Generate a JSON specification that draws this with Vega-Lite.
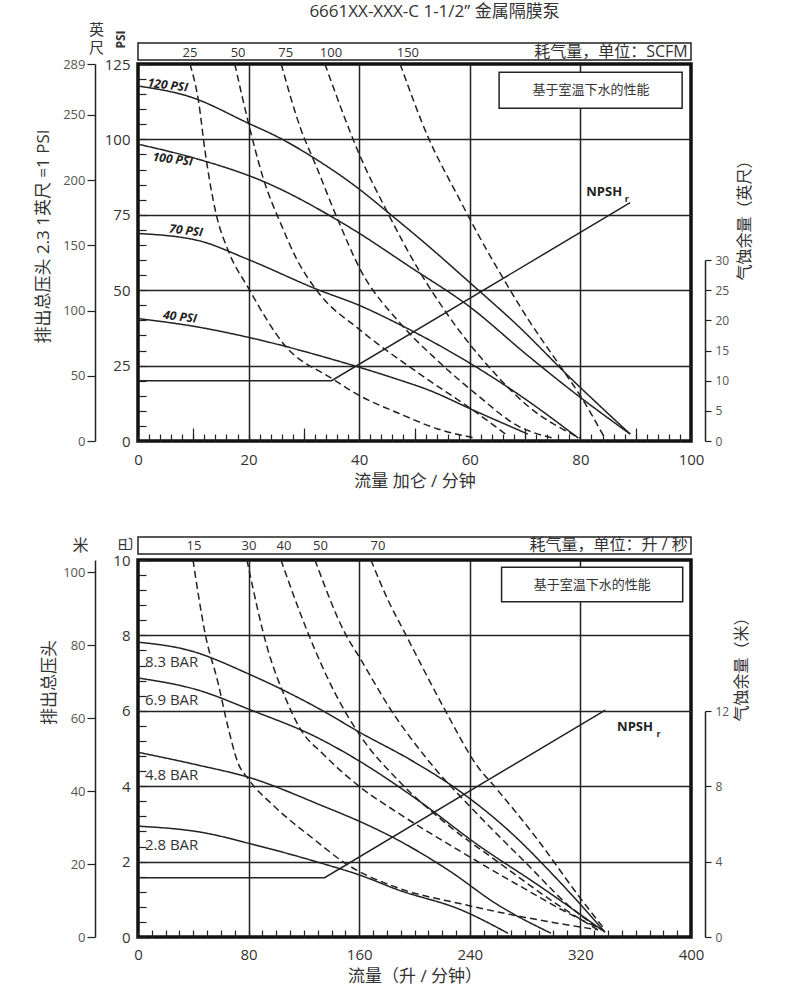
{
  "$schema": "https://vega.github.io/schema/vega-lite/v6.json",
  "padding": {"left": 32, "top": 1, "right": 5, "bottom": 5},
  "spacing": 43,
  "datasets": {
    "topCurves": [
      {"s":"120","k":"solid","gpm":0,"psi":117.7},{"s":"120","k":"solid","gpm":9.6,"psi":114.0},{"s":"120","k":"solid","gpm":19.9,"psi":105.4},{"s":"120","k":"solid","gpm":25.7,"psi":100.4},{"s":"120","k":"solid","gpm":31.6,"psi":94.1},{"s":"120","k":"solid","gpm":39.8,"psi":83.8},{"s":"120","k":"solid","gpm":45.2,"psi":75.8},{"s":"120","k":"solid","gpm":52.4,"psi":64.8},{"s":"120","k":"solid","gpm":60.2,"psi":52.2},{"s":"120","k":"solid","gpm":68.7,"psi":38.2},{"s":"120","k":"solid","gpm":77.8,"psi":21.6},{"s":"120","k":"solid","gpm":89.0,"psi":2.3},
      {"s":"100","k":"solid","gpm":0,"psi":98.4},{"s":"100","k":"solid","gpm":9.6,"psi":94.1},{"s":"100","k":"solid","gpm":23.5,"psi":85.4},{"s":"100","k":"solid","gpm":36.2,"psi":73.1},{"s":"100","k":"solid","gpm":39.8,"psi":69.1},{"s":"100","k":"solid","gpm":48.8,"psi":58.2},{"s":"100","k":"solid","gpm":60.2,"psi":44.2},{"s":"100","k":"solid","gpm":70.5,"psi":28.3},{"s":"100","k":"solid","gpm":79.6,"psi":15.0},{"s":"100","k":"solid","gpm":89.0,"psi":2.3},
      {"s":"70","k":"solid","gpm":0,"psi":68.8},{"s":"70","k":"solid","gpm":10.8,"psi":66.5},{"s":"70","k":"solid","gpm":19.9,"psi":60.2},{"s":"70","k":"solid","gpm":32.5,"psi":50.2},{"s":"70","k":"solid","gpm":40.1,"psi":44.9},{"s":"70","k":"solid","gpm":47.0,"psi":38.9},{"s":"70","k":"solid","gpm":60.2,"psi":25.6},{"s":"70","k":"solid","gpm":70.5,"psi":13.3},{"s":"70","k":"solid","gpm":79.6,"psi":1.0},
      {"s":"40","k":"solid","gpm":0,"psi":40.6},{"s":"40","k":"solid","gpm":10.8,"psi":37.8},{"s":"40","k":"solid","gpm":19.9,"psi":34.4},{"s":"40","k":"solid","gpm":26.6,"psi":31.4},{"s":"40","k":"solid","gpm":34.9,"psi":27.2},{"s":"40","k":"solid","gpm":40.1,"psi":24.4},{"s":"40","k":"solid","gpm":47.0,"psi":20.4},{"s":"40","k":"solid","gpm":52.4,"psi":17.0},{"s":"40","k":"solid","gpm":60.9,"psi":10.0},{"s":"40","k":"solid","gpm":70.5,"psi":2.3},
      {"s":"a25","k":"dashed","gpm":9.4,"psi":125},{"s":"a25","k":"dashed","gpm":11.0,"psi":112},{"s":"a25","k":"dashed","gpm":12.1,"psi":96.4},{"s":"a25","k":"dashed","gpm":14.1,"psi":75.5},{"s":"a25","k":"dashed","gpm":16.3,"psi":63.2},{"s":"a25","k":"dashed","gpm":19.9,"psi":50.9},{"s":"a25","k":"dashed","gpm":26.6,"psi":31.6},{"s":"a25","k":"dashed","gpm":34.9,"psi":20.9},{"s":"a25","k":"dashed","gpm":40.1,"psi":15.0},{"s":"a25","k":"dashed","gpm":47.0,"psi":9.3},{"s":"a25","k":"dashed","gpm":54.2,"psi":4.0},{"s":"a25","k":"dashed","gpm":60.9,"psi":1.0},
      {"s":"a50","k":"dashed","gpm":17.5,"psi":125},{"s":"a50","k":"dashed","gpm":19.9,"psi":106},{"s":"a50","k":"dashed","gpm":22.5,"psi":88},{"s":"a50","k":"dashed","gpm":26.3,"psi":70},{"s":"a50","k":"dashed","gpm":28.5,"psi":61},{"s":"a50","k":"dashed","gpm":32.5,"psi":49.5},{"s":"a50","k":"dashed","gpm":40.3,"psi":36.6},{"s":"a50","k":"dashed","gpm":50.1,"psi":23.3},{"s":"a50","k":"dashed","gpm":60.9,"psi":9.8},{"s":"a50","k":"dashed","gpm":66.9,"psi":1.7},
      {"s":"a75","k":"dashed","gpm":25.9,"psi":125},{"s":"a75","k":"dashed","gpm":29.5,"psi":103.1},{"s":"a75","k":"dashed","gpm":32.0,"psi":92.1},{"s":"a75","k":"dashed","gpm":36.2,"psi":73.1},{"s":"a75","k":"dashed","gpm":40.3,"psi":56.5},{"s":"a75","k":"dashed","gpm":47.0,"psi":39.9},{"s":"a75","k":"dashed","gpm":54.2,"psi":26.6},{"s":"a75","k":"dashed","gpm":61.5,"psi":15.0},{"s":"a75","k":"dashed","gpm":68.7,"psi":5.0},{"s":"a75","k":"dashed","gpm":75.0,"psi":1.0},
      {"s":"a100","k":"dashed","gpm":33.8,"psi":125},{"s":"a100","k":"dashed","gpm":37.1,"psi":108.5},{"s":"a100","k":"dashed","gpm":39.8,"psi":96},{"s":"a100","k":"dashed","gpm":45.2,"psi":75.5},{"s":"a100","k":"dashed","gpm":50.6,"psi":57.2},{"s":"a100","k":"dashed","gpm":56.1,"psi":41.6},{"s":"a100","k":"dashed","gpm":63.3,"psi":24.9},{"s":"a100","k":"dashed","gpm":70.5,"psi":11.6},{"s":"a100","k":"dashed","gpm":79.9,"psi":1.0},
      {"s":"a150","k":"dashed","gpm":47.4,"psi":125},{"s":"a150","k":"dashed","gpm":52.4,"psi":101},{"s":"a150","k":"dashed","gpm":57.9,"psi":81},{"s":"a150","k":"dashed","gpm":61.5,"psi":68.5},{"s":"a150","k":"dashed","gpm":66.5,"psi":52.5},{"s":"a150","k":"dashed","gpm":70.5,"psi":40.5},{"s":"a150","k":"dashed","gpm":75.9,"psi":26.0},{"s":"a150","k":"dashed","gpm":80.5,"psi":13.5},{"s":"a150","k":"dashed","gpm":84.4,"psi":1.0}
    ],
    "topNpsh": [{"gpm":0,"npsh":10},{"gpm":35,"npsh":10},{"gpm":89,"npsh":39.5}],
    "topAir": [{"scfm":"25","gpm":9.4},{"scfm":"50","gpm":18.1},{"scfm":"75","gpm":26.7},{"scfm":"100","gpm":34.9},{"scfm":"150","gpm":48.8}],
    "topLabels": [{"label":"120 PSI","gpm":5.4,"psi":118.0},{"label":"100 PSI","gpm":6.3,"psi":93.4},{"label":"70 PSI","gpm":8.7,"psi":69.8},{"label":"40 PSI","gpm":7.6,"psi":41.2}],
    "botCurves": [
      {"s":"8.3","k":"solid","lpm":0,"bar":7.82},{"s":"8.3","k":"solid","lpm":36.2,"bar":7.61},{"s":"8.3","k":"solid","lpm":81.7,"bar":6.95},{"s":"8.3","k":"solid","lpm":130.2,"bar":6.07},{"s":"8.3","k":"solid","lpm":161.3,"bar":5.41},{"s":"8.3","k":"solid","lpm":197.5,"bar":4.69},{"s":"8.3","k":"solid","lpm":231.5,"bar":3.9},{"s":"8.3","k":"solid","lpm":267.6,"bar":2.84},{"s":"8.3","k":"solid","lpm":303.8,"bar":1.51},{"s":"8.3","k":"solid","lpm":337.8,"bar":0.13},
      {"s":"6.9","k":"solid","lpm":0,"bar":6.87},{"s":"6.9","k":"solid","lpm":43.4,"bar":6.55},{"s":"6.9","k":"solid","lpm":81.7,"bar":6.02},{"s":"6.9","k":"solid","lpm":130.2,"bar":5.28},{"s":"6.9","k":"solid","lpm":161.3,"bar":4.64},{"s":"6.9","k":"solid","lpm":202.5,"bar":3.63},{"s":"6.9","k":"solid","lpm":245.9,"bar":2.44},{"s":"6.9","k":"solid","lpm":289.3,"bar":1.38},{"s":"6.9","k":"solid","lpm":337.8,"bar":0.13},
      {"s":"4.8","k":"solid","lpm":0,"bar":4.9},{"s":"4.8","k":"solid","lpm":43.4,"bar":4.56},{"s":"4.8","k":"solid","lpm":79.6,"bar":4.24},{"s":"4.8","k":"solid","lpm":135.3,"bar":3.45},{"s":"4.8","k":"solid","lpm":161.3,"bar":3.05},{"s":"4.8","k":"solid","lpm":188.1,"bar":2.57},{"s":"4.8","k":"solid","lpm":224.2,"bar":1.78},{"s":"4.8","k":"solid","lpm":260.4,"bar":0.85},{"s":"4.8","k":"solid","lpm":298.7,"bar":0.1},
      {"s":"2.8","k":"solid","lpm":0,"bar":2.94},{"s":"2.8","k":"solid","lpm":48.5,"bar":2.76},{"s":"2.8","k":"solid","lpm":79.6,"bar":2.49},{"s":"2.8","k":"solid","lpm":132.4,"bar":1.96},{"s":"2.8","k":"solid","lpm":160.6,"bar":1.64},{"s":"2.8","k":"solid","lpm":188.1,"bar":1.25},{"s":"2.8","k":"solid","lpm":233.6,"bar":0.72},{"s":"2.8","k":"solid","lpm":267.6,"bar":0.1},
      {"s":"a15","k":"dashed","lpm":39.8,"bar":10},{"s":"a15","k":"dashed","lpm":44,"bar":9.0},{"s":"a15","k":"dashed","lpm":48.5,"bar":8.06},{"s":"a15","k":"dashed","lpm":57.9,"bar":6.74},{"s":"a15","k":"dashed","lpm":65.1,"bar":5.57},{"s":"a15","k":"dashed","lpm":72.3,"bar":4.62},{"s":"a15","k":"dashed","lpm":79.6,"bar":4.2},{"s":"a15","k":"dashed","lpm":99.1,"bar":3.45},{"s":"a15","k":"dashed","lpm":128,"bar":2.57},{"s":"a15","k":"dashed","lpm":149.7,"bar":1.96},{"s":"a15","k":"dashed","lpm":188.1,"bar":1.3},{"s":"a15","k":"dashed","lpm":233.6,"bar":0.88},{"s":"a15","k":"dashed","lpm":280,"bar":0.52},{"s":"a15","k":"dashed","lpm":332.7,"bar":0.19},
      {"s":"a30","k":"dashed","lpm":78.8,"bar":10},{"s":"a30","k":"dashed","lpm":94,"bar":7.61},{"s":"a30","k":"dashed","lpm":106.3,"bar":6.37},{"s":"a30","k":"dashed","lpm":117.9,"bar":5.49},{"s":"a30","k":"dashed","lpm":134,"bar":4.85},{"s":"a30","k":"dashed","lpm":160.6,"bar":3.98},{"s":"a30","k":"dashed","lpm":188.1,"bar":3.29},{"s":"a30","k":"dashed","lpm":231.5,"bar":2.31},{"s":"a30","k":"dashed","lpm":274.9,"bar":1.38},{"s":"a30","k":"dashed","lpm":318.3,"bar":0.5},{"s":"a30","k":"dashed","lpm":336.3,"bar":0.19},
      {"s":"a40","k":"dashed","lpm":103.4,"bar":10},{"s":"a40","k":"dashed","lpm":123,"bar":8.06},{"s":"a40","k":"dashed","lpm":142.5,"bar":6.47},{"s":"a40","k":"dashed","lpm":161.3,"bar":5.31},{"s":"a40","k":"dashed","lpm":188.1,"bar":4.16},{"s":"a40","k":"dashed","lpm":224.2,"bar":2.97},{"s":"a40","k":"dashed","lpm":260.4,"bar":1.99},{"s":"a40","k":"dashed","lpm":303.8,"bar":0.85},{"s":"a40","k":"dashed","lpm":332.7,"bar":0.19},
      {"s":"a50","k":"dashed","lpm":128,"bar":10},{"s":"a50","k":"dashed","lpm":149.7,"bar":8.06},{"s":"a50","k":"dashed","lpm":161.3,"bar":7.35},{"s":"a50","k":"dashed","lpm":183,"bar":6.02},{"s":"a50","k":"dashed","lpm":209.8,"bar":4.69},{"s":"a50","k":"dashed","lpm":246,"bar":3.24},{"s":"a50","k":"dashed","lpm":282.1,"bar":1.91},{"s":"a50","k":"dashed","lpm":311,"bar":0.85},{"s":"a50","k":"dashed","lpm":334.9,"bar":0.19},
      {"s":"a70","k":"dashed","lpm":168.5,"bar":10},{"s":"a70","k":"dashed","lpm":180.8,"bar":8.94},{"s":"a70","k":"dashed","lpm":193.1,"bar":8.06},{"s":"a70","k":"dashed","lpm":222.1,"bar":6.02},{"s":"a70","k":"dashed","lpm":245.9,"bar":4.51},{"s":"a70","k":"dashed","lpm":258.2,"bar":3.98},{"s":"a70","k":"dashed","lpm":289.3,"bar":2.57},{"s":"a70","k":"dashed","lpm":318.3,"bar":1.11},{"s":"a70","k":"dashed","lpm":337.8,"bar":0.19}
    ],
    "botNpsh": [{"lpm":0,"npsh":3.15},{"lpm":135,"npsh":3.15},{"lpm":338,"npsh":12.05}],
    "botAir": [{"ls":"15","lpm":40.5},{"ls":"30","lpm":80.3},{"ls":"40","lpm":105.6},{"ls":"50","lpm":132},{"ls":"70","lpm":173.6}],
    "botLabels": [{"label":"8.3 BAR","lpm":5,"bar":7.29},{"label":"6.9 BAR","lpm":5,"bar":6.29},{"label":"4.8 BAR","lpm":5,"bar":4.30},{"label":"2.8 BAR","lpm":5,"bar":2.44}]
  },
  "vconcat": [
    {
      "title": {"text": "6661XX-XXX-C  1-1/2” 金属隔膜泵", "fontSize": 17, "fontWeight": "normal", "color": "#333", "anchor": "middle", "frame": "group", "dx": 20, "offset": 1},
      "width": 553,
      "height": 377,
      "layer": [
        {
          "layer": [
            {
              "data": {"name": "topCurves"},
              "mark": {"type": "line", "interpolate": "monotone", "strokeWidth": 1.5, "color": "#222"},
              "encoding": {
                "x": {"field": "gpm", "type": "quantitative", "scale": {"domain": [0, 100], "nice": false},
                  "axis": {"title": "流量 加仑 / 分钟", "titleFontSize": 17, "titlePadding": 6,
                    "values": [0,2,4,6,8,10,12,14,16,18,20,22,24,26,28,30,32,34,36,38,40,42,44,46,48,50,52,54,56,58,60,62,64,66,68,70,72,74,76,78,80,82,84,86,88,90,92,94,96,98,100],
                    "tickCount": 200,
                    "labelExpr": "datum.value % 20 === 0 ? '' + datum.value : ''",
                    "labelFontSize": 15, "labelPadding": 18, "labelFlush": false, "labelOverlap": false,
                    "domain": false, "tickSize": -7, "tickWidth": 1.2, "tickColor": "#222",
                    "grid": true, "gridColor": "#222", "gridWidth": 1.5,
                    "gridOpacity": {"condition": {"test": "datum.value % 20 === 0 && datum.value > 0 && datum.value < 100", "value": 1}, "value": 0}}},
                "y": {"field": "psi", "type": "quantitative", "scale": {"domain": [0, 125], "nice": false},
                  "axis": {"title": "PSI", "titleFontSize": 12, "titleFontWeight": "bold", "titleAngle": 270, "titleX": -18, "titleY": -25, "titleAlign": "center", "titleBaseline": "middle",
                    "values": [0,5,10,15,20,25,30,35,40,45,50,55,60,65,70,75,80,85,90,95,100,105,110,115,120,125],
                    "tickCount": 200,
                    "labelExpr": "datum.value % 25 === 0 ? '' + datum.value : ''",
                    "labelFontSize": 15, "labelPadding": 16, "labelOverlap": false,
                    "domain": false, "tickSize": -8, "tickWidth": 1.2, "tickColor": "#222",
                    "grid": true, "gridColor": "#222", "gridWidth": 1.5,
                    "gridOpacity": {"condition": {"test": "datum.value % 25 === 0 && datum.value > 0 && datum.value < 125", "value": 1}, "value": 0}}},
                "detail": {"field": "s", "type": "nominal"},
                "strokeDash": {"field": "k", "type": "nominal", "scale": {"domain": ["solid", "dashed"], "range": [[1, 0], [7, 4]]}, "legend": null}
              }
            },
            {
              "data": {"values": [{}]},
              "mark": {"type": "rect", "fill": "white", "fillOpacity": 0, "stroke": "#222", "strokeWidth": 1.5},
              "encoding": {
                "x": {"datum": 0, "type": "quantitative"}, "x2": {"datum": 100},
                "y": {"datum": 126.3, "type": "quantitative"}, "y2": {"datum": 132}
              }
            },
            {
              "data": {"name": "topAir"},
              "mark": {"type": "text", "fontSize": 13, "color": "#333"},
              "encoding": {
                "x": {"field": "gpm", "type": "quantitative"},
                "y": {"datum": 128.8, "type": "quantitative"},
                "text": {"field": "scfm", "type": "nominal"}
              }
            },
            {
              "data": {"values": [{}]},
              "mark": {"type": "text", "text": "耗气量，单位：SCFM", "fontSize": 16, "align": "right", "color": "#333"},
              "encoding": {
                "x": {"datum": 99.4, "type": "quantitative"},
                "y": {"datum": 128.9, "type": "quantitative"}
              }
            },
            {
              "data": {"values": [{}]},
              "mark": {"type": "rect", "fill": "white", "stroke": "#222", "strokeWidth": 1.5},
              "encoding": {
                "x": {"datum": 65.3, "type": "quantitative"}, "x2": {"datum": 98.4},
                "y": {"datum": 110.3, "type": "quantitative"}, "y2": {"datum": 122.3}
              }
            },
            {
              "data": {"values": [{}]},
              "mark": {"type": "text", "text": "基于室温下水的性能", "fontSize": 13, "color": "#333"},
              "encoding": {
                "x": {"datum": 81.9, "type": "quantitative"},
                "y": {"datum": 116.3, "type": "quantitative"}
              }
            },
            {
              "data": {"values": [{}]},
              "mark": {"type": "text", "text": "NPSH", "fontSize": 13, "fontWeight": "bold", "color": "#222"},
              "encoding": {
                "x": {"datum": 84.3, "type": "quantitative"},
                "y": {"datum": 82.4, "type": "quantitative"}
              }
            },
            {
              "data": {"values": [{}]},
              "mark": {"type": "text", "text": "r", "fontSize": 9, "fontWeight": "bold", "color": "#222"},
              "encoding": {
                "x": {"datum": 88.4, "type": "quantitative"},
                "y": {"datum": 80.3, "type": "quantitative"}
              }
            }
          ]
        },
        {
          "data": {"name": "topNpsh"},
          "mark": {"type": "line", "strokeWidth": 1.5, "color": "#222"},
          "encoding": {
            "x": {"field": "gpm", "type": "quantitative", "scale": {"domain": [0, 100], "nice": false},
              "axis": {"orient": "bottom", "values": [10,30,50,70,90], "tickSize": -13, "tickWidth": 1.2, "tickColor": "#222", "labels": false, "domain": false, "grid": false, "title": null}},
            "y": {"field": "npsh", "type": "quantitative", "scale": {"domain": [0, 30], "range": [377, 196], "nice": false},
              "axis": {"orient": "right", "offset": 14, "values": [0,5,10,15,20,25,30], "tickSize": 6, "tickWidth": 1.2, "domainWidth": 1.5, "labelPadding": 4, "labelFontSize": 12, "labelColor": "#555", "grid": false,
                "title": "气蚀余量（英尺）", "titleFontSize": 16, "titleAngle": 270, "titleY": 152, "titlePadding": 24}}
          }
        },
        {
          "data": {"values": [{"ft": 0}, {"ft": 289}]},
          "mark": {"type": "point", "opacity": 0},
          "encoding": {
            "y": {"field": "ft", "type": "quantitative", "scale": {"domain": [0, 289], "nice": false},
              "axis": {"orient": "left", "offset": 43, "values": [0,50,100,150,200,250,289], "tickCount": 50, "tickSize": 8, "tickWidth": 1.2, "domainWidth": 1.5, "labelPadding": 2, "labelFontSize": 13, "labelColor": "#555", "grid": false,
                "title": "排出总压头 2.3 1英尺 =1 PSI", "titleFontSize": 17, "titleY": 172, "titlePadding": 10}}
          }
        },
        {
          "data": {"name": "topLabels"},
          "mark": {"type": "text", "fontStyle": "italic", "fontWeight": "bold", "fontSize": 12, "angle": 7, "color": "#222"},
          "encoding": {
            "x": {"field": "gpm", "type": "quantitative", "scale": {"domain": [0, 100], "nice": false}, "axis": null},
            "y": {"field": "psi", "type": "quantitative", "scale": {"domain": [0, 125], "nice": false},
              "axis": {"orient": "left", "offset": 43, "labels": false, "ticks": false, "domain": false, "grid": false,
                "title": ["英", "尺"], "titleAngle": 0, "titleX": 1, "titleY": -35, "titleAlign": "center", "titleBaseline": "middle", "titleFontSize": 15, "titleLineHeight": 18}},
            "text": {"field": "label", "type": "nominal"}
          }
        }
      ],
      "resolve": {"scale": {"y": "independent"}, "axis": {"x": "independent"}}
    },
    {
      "width": 553,
      "height": 377,
      "layer": [
        {
          "layer": [
            {
              "data": {"name": "botCurves"},
              "mark": {"type": "line", "interpolate": "monotone", "strokeWidth": 1.5, "color": "#222"},
              "encoding": {
                "x": {"field": "lpm", "type": "quantitative", "scale": {"domain": [0, 400], "nice": false},
                  "axis": {"title": "流量（升 / 分钟）", "titleFontSize": 17, "titlePadding": 6,
                    "values": [0,10,20,30,40,50,60,70,80,90,100,110,120,130,140,150,160,170,180,190,200,210,220,230,240,250,260,270,280,290,300,310,320,330,340,350,360,370,380,390,400],
                    "tickCount": 200,
                    "labelExpr": "datum.value % 80 === 0 ? '' + datum.value : ''",
                    "labelFontSize": 15, "labelPadding": 17, "labelFlush": false, "labelOverlap": false,
                    "domain": false, "tickSize": -7, "tickWidth": 1.2, "tickColor": "#222",
                    "grid": true, "gridColor": "#222", "gridWidth": 1.5,
                    "gridOpacity": {"condition": {"test": "datum.value % 80 === 0 && datum.value > 0 && datum.value < 400", "value": 1}, "value": 0}}},
                "y": {"field": "bar", "type": "quantitative", "scale": {"domain": [0, 10], "nice": false},
                  "axis": {"title": "巴", "titleFontSize": 15, "titleAngle": 270, "titleX": -13, "titleY": -16, "titleAlign": "center", "titleBaseline": "middle",
                    "values": [0,0.4,0.8,1.2,1.6,2,2.4,2.8,3.2,3.6,4,4.4,4.8,5.2,5.6,6,6.4,6.8,7.2,7.6,8,8.4,8.8,9.2,9.6,10],
                    "tickCount": 200,
                    "labelExpr": "datum.value % 2 === 0 ? '' + datum.value : ''",
                    "labelFontSize": 15, "labelPadding": 16, "labelOverlap": false,
                    "domain": false, "tickSize": -8, "tickWidth": 1.2, "tickColor": "#222",
                    "grid": true, "gridColor": "#222", "gridWidth": 1.5,
                    "gridOpacity": {"condition": {"test": "datum.value % 2 === 0 && datum.value > 0 && datum.value < 10", "value": 1}, "value": 0}}},
                "detail": {"field": "s", "type": "nominal"},
                "strokeDash": {"field": "k", "type": "nominal", "scale": {"domain": ["solid", "dashed"], "range": [[1, 0], [7, 4]]}, "legend": null}
              }
            },
            {
              "data": {"values": [{}]},
              "mark": {"type": "rect", "fill": "white", "fillOpacity": 0, "stroke": "#222", "strokeWidth": 1.5},
              "encoding": {
                "x": {"datum": 0, "type": "quantitative"}, "x2": {"datum": 400},
                "y": {"datum": 10.16, "type": "quantitative"}, "y2": {"datum": 10.61}
              }
            },
            {
              "data": {"name": "botAir"},
              "mark": {"type": "text", "fontSize": 13, "color": "#333"},
              "encoding": {
                "x": {"field": "lpm", "type": "quantitative"},
                "y": {"datum": 10.38, "type": "quantitative"},
                "text": {"field": "ls", "type": "nominal"}
              }
            },
            {
              "data": {"values": [{}]},
              "mark": {"type": "text", "text": "耗气量，单位：升 / 秒", "fontSize": 16, "align": "right", "color": "#333"},
              "encoding": {
                "x": {"datum": 397.6, "type": "quantitative"},
                "y": {"datum": 10.39, "type": "quantitative"}
              }
            },
            {
              "data": {"values": [{}]},
              "mark": {"type": "rect", "fill": "white", "stroke": "#222", "strokeWidth": 1.5},
              "encoding": {
                "x": {"datum": 263, "type": "quantitative"}, "x2": {"datum": 394},
                "y": {"datum": 8.89, "type": "quantitative"}, "y2": {"datum": 9.81}
              }
            },
            {
              "data": {"values": [{}]},
              "mark": {"type": "text", "text": "基于室温下水的性能", "fontSize": 13, "color": "#333"},
              "encoding": {
                "x": {"datum": 328.5, "type": "quantitative"},
                "y": {"datum": 9.35, "type": "quantitative"}
              }
            },
            {
              "data": {"values": [{}]},
              "mark": {"type": "text", "text": "NPSH", "fontSize": 13, "fontWeight": "bold", "color": "#222"},
              "encoding": {
                "x": {"datum": 359.5, "type": "quantitative"},
                "y": {"datum": 5.57, "type": "quantitative"}
              }
            },
            {
              "data": {"values": [{}]},
              "mark": {"type": "text", "text": "r", "fontSize": 9, "fontWeight": "bold", "color": "#222"},
              "encoding": {
                "x": {"datum": 376.5, "type": "quantitative"},
                "y": {"datum": 5.38, "type": "quantitative"}
              }
            }
          ]
        },
        {
          "data": {"name": "botNpsh"},
          "mark": {"type": "line", "strokeWidth": 1.5, "color": "#222"},
          "encoding": {
            "x": {"field": "lpm", "type": "quantitative", "scale": {"domain": [0, 400], "nice": false}, "axis": null},
            "y": {"field": "npsh", "type": "quantitative", "scale": {"domain": [0, 12], "range": [377, 151], "nice": false},
              "axis": {"orient": "right", "offset": 14, "values": [0,4,8,12], "tickSize": 6, "tickWidth": 1.2, "domainWidth": 1.5, "labelPadding": 4, "labelFontSize": 12, "labelColor": "#555", "grid": false,
                "title": "气蚀余量（米）", "titleFontSize": 16, "titleAngle": 270, "titleY": 105, "titlePadding": 21}}
          }
        },
        {
          "data": {"values": [{"m": 0}, {"m": 103.3}]},
          "mark": {"type": "point", "opacity": 0},
          "encoding": {
            "y": {"field": "m", "type": "quantitative", "scale": {"domain": [0, 103.3], "nice": false},
              "axis": {"orient": "left", "offset": 43, "values": [0,20,40,60,80,100], "tickCount": 50, "tickSize": 8, "tickWidth": 1.2, "domainWidth": 1.5, "labelPadding": 2, "labelFontSize": 13, "labelColor": "#555", "grid": false,
                "title": "排出总压头", "titleFontSize": 17, "titleY": 122, "titlePadding": 4}}
          }
        },
        {
          "data": {"name": "botLabels"},
          "mark": {"type": "text", "fontSize": 15, "align": "left", "color": "#333"},
          "encoding": {
            "x": {"field": "lpm", "type": "quantitative", "scale": {"domain": [0, 400], "nice": false}, "axis": null},
            "y": {"field": "bar", "type": "quantitative", "scale": {"domain": [0, 10], "nice": false},
              "axis": {"orient": "left", "offset": 43, "labels": false, "ticks": false, "domain": false, "grid": false,
                "title": "米", "titleAngle": 0, "titleX": -15, "titleY": -15, "titleAlign": "center", "titleBaseline": "middle", "titleFontSize": 16}},
            "text": {"field": "label", "type": "nominal"}
          }
        }
      ],
      "resolve": {"scale": {"y": "independent"}, "axis": {"x": "independent"}}
    }
  ],
  "config": {
    "font": "'Open Sans', 'Noto Sans CJK SC', sans-serif",
    "view": {"stroke": "#111", "strokeWidth": 3.5},
    "axis": {"labelFont": "'Open Sans', 'Noto Sans CJK SC', sans-serif", "titleFont": "'Open Sans', 'Noto Sans CJK SC', sans-serif", "labelColor": "#333", "titleColor": "#333", "titleFontWeight": "normal", "tickColor": "#222", "domainColor": "#222"},
    "text": {"font": "'Open Sans', 'Noto Sans CJK SC', sans-serif"},
    "title": {"font": "'Open Sans', 'Noto Sans CJK SC', sans-serif"}
  }
}
